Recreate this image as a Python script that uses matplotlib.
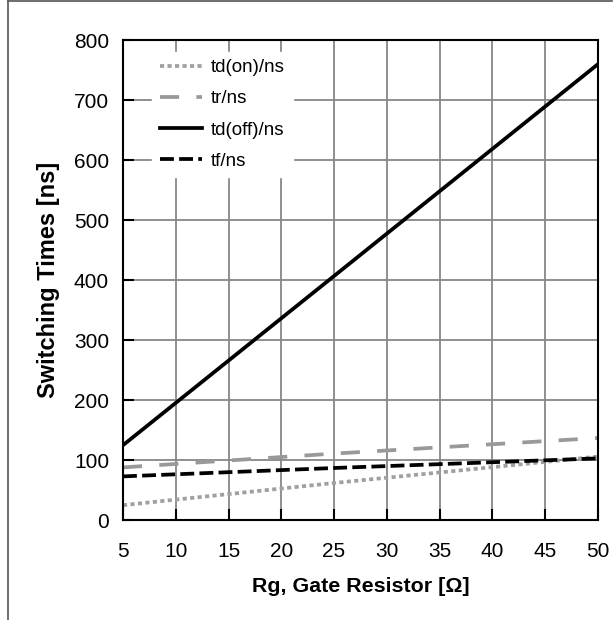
import matplotlib
matplotlib.use("Agg")
import matplotlib.pyplot as plt
from matplotlib.lines import Line2D

plt.rcParams['font.family'] = ['Liberation Sans', 'DejaVu Sans']

#Values
rg = [5, 25, 50]
td_on = [25, 62, 106]
tr = [88, 111, 137]
td_off = [125, 407, 760]
tf = [73, 87, 103]

x_ticks = [5, 10, 15, 20, 25, 30, 35, 40, 45, 50]
y_ticks = [0, 100, 200, 300, 400, 500, 600, 700, 800]

fig = plt.figure(figsize=(6.15, 6.2), dpi=100)
ax = fig.add_axes([0.2, 0.161, 0.772, 0.774])

lw = 2.7
ax.plot(rg, td_on, color='#a0a0a0', lw=lw, linestyle=(0, (1.1, 0.9)), dash_capstyle='butt', label='td(on)/ns')
ax.plot(rg, tr, color='#999999', lw=lw, linestyle=(0, (5.1, 4.6)), dash_capstyle='butt', label='tr/ns')
ax.plot(rg, td_off, color='black', lw=lw, label='td(off)/ns')
ax.plot(rg, tf, color='black', lw=lw, linestyle=(0, (3.7, 1.4)), dash_capstyle='butt', label='tf/ns')

ax.set_xlim(5, 50)
ax.set_ylim(0, 800)
ax.set_xticks(x_ticks)
ax.set_yticks(y_ticks)
ax.grid(True, color='#878787', lw=1.3)
ax.set_axisbelow(True)
ax.tick_params(direction='in', length=8, width=1.5, labelsize=15, color='black')
ax.tick_params(axis='x', pad=15.5)
ax.tick_params(axis='y', pad=10)
for s in ax.spines.values():
    s.set_linewidth(1.5)

ax.set_xlabel('Rg, Gate Resistor [Ω]', fontsize=15.4, fontweight='bold', labelpad=12)
ax.set_ylabel('Switching Times [ns]', fontsize=17, fontweight='bold', labelpad=10)

leg = ax.legend(loc='upper left', bbox_to_anchor=(0.0415, 0.996), fontsize=13.5,
                handlelength=2.25, handletextpad=0.5, labelspacing=0.75,
                frameon=True, fancybox=False, edgecolor='white', facecolor='white', framealpha=1)

#outer frame (top and left only)
fig.add_artist(Line2D([8/615, 612/615], [1 - 1/620, 1 - 1/620], color='#555555', lw=1.2))
fig.add_artist(Line2D([8/615, 8/615], [0, 1 - 1/620], color='#555555', lw=1.2))

fig.savefig('out.png', dpi=100)
